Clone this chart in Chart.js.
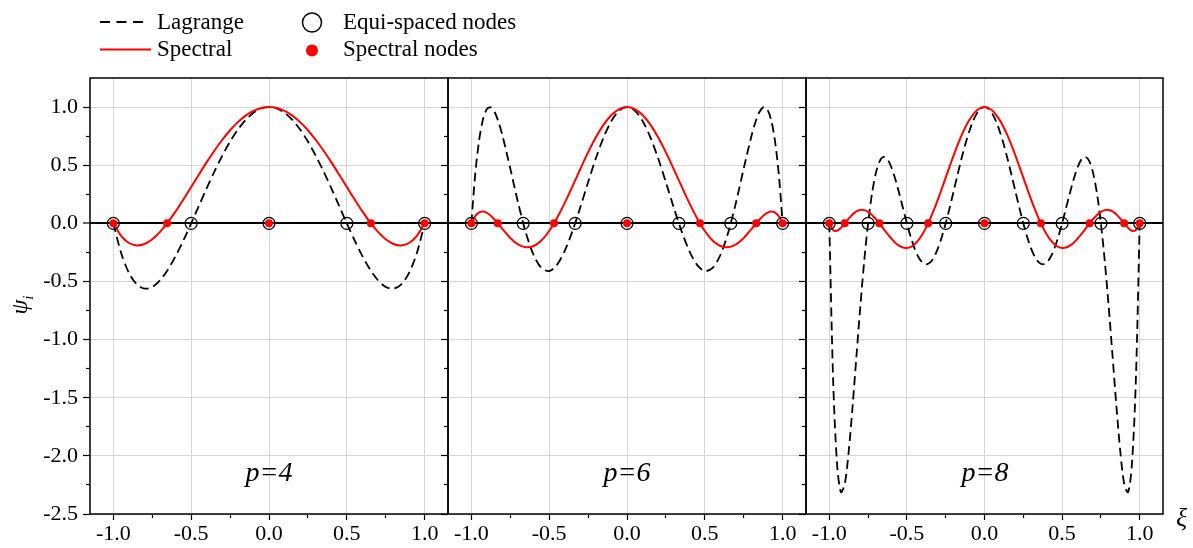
<!DOCTYPE html>
<html lang="en">
<head>
<meta charset="utf-8">
<title>Lagrange vs spectral basis functions</title>
<script src="https://cdn.jsdelivr.net/npm/chart.js@4.4.1/dist/chart.umd.min.js"></script>
<style>
  body { margin: 0; background: #fff; }
  #wrap { position: relative; width: 1193px; height: 548px; overflow: hidden;
          font-family: 'Liberation Serif', 'Times New Roman', serif; color: #000; }
  #wrap canvas { position: absolute; left: 0; top: 0; }
  .txt { position: absolute; white-space: nowrap; }
  .leg { font-size: 23px; line-height: 23px; }
  .plabel { font-size: 28px; line-height: 28px; font-style: italic; width: 120px; text-align: center; }
  #ytitle { left: -11px; top: 290px; width: 60px; height: 30px; line-height: 30px; text-align: center;
            font-size: 24px; transform: rotate(-90deg); }
  #ytitle sub { font-size: 15px; }
</style>
</head>
<body>
<div id="wrap">
  <canvas id="c1" width="1193" height="548"></canvas>
  <canvas id="c2" width="1193" height="548"></canvas>
  <canvas id="c3" width="1193" height="548"></canvas>

  <svg width="360" height="70" style="position:absolute;left:0;top:0">
    <line x1="100" y1="22" x2="145" y2="22" stroke="#000" stroke-width="2" stroke-dasharray="10 6.5"/>
    <line x1="100" y1="49.5" x2="151" y2="49.5" stroke="#ff0000" stroke-width="1.8"/>
    <circle cx="312" cy="22.5" r="9.5" fill="none" stroke="#000" stroke-width="1.5"/>
    <circle cx="312" cy="50.5" r="6" fill="#ff0000"/>
  </svg>
  <div class="txt leg" style="left:157px;top:10px">Lagrange</div>
  <div class="txt leg" style="left:157px;top:37px">Spectral</div>
  <div class="txt leg" style="left:343px;top:10px">Equi-spaced nodes</div>
  <div class="txt leg" style="left:343px;top:37px">Spectral nodes</div>

  <div class="txt plabel" style="left:209px;top:458px">p=4</div>
  <div class="txt plabel" style="left:567px;top:458px">p=6</div>
  <div class="txt plabel" style="left:925px;top:458px">p=8</div>

  <div class="txt" id="ytitle"><i>&psi;</i><sub><i>i</i></sub></div>
  <div class="txt" style="left:1176px;top:505px;font-size:26px;line-height:26px;font-style:italic">&xi;</div>
</div>

<script>
    // axis ticks (major get labels, minor only get a short mark)
    const xMajor = [-1, -0.5, 0, 0.5, 1];
    const xMinor = [-0.75, -0.25, 0.25, 0.75];
    const yMajor = [-2.5, -2, -1.5, -1, -0.5, 0, 0.5, 1];
    const yMinor = [-2.25, -1.75, -1.25, -0.75, -0.25, 0.25, 0.75];

    // p = 4
    const p4Xi = [-1, -0.95, -0.9, -0.85, -0.8, -0.75, -0.7, -0.65, -0.6, -0.55, -0.5, -0.45, -0.4, -0.35, -0.3, -0.25, -0.2, -0.15, -0.1, -0.05,
        0, 0.05, 0.1, 0.15, 0.2, 0.25, 0.3, 0.35, 0.4, 0.45, 0.5, 0.55, 0.6, 0.65, 0.7, 0.75, 0.8, 0.85, 0.9, 0.95, 1];
    const p4Lagrange = [0, -0.2545, -0.4256, -0.5245, -0.5616, -0.5469, -0.4896, -0.3985, -0.2816, -0.1465, 0, 0.1515, 0.3024, 0.4475, 0.5824, 0.7031, 0.8064, 0.8895, 0.9504, 0.9875,
        1, 0.9875, 0.9504, 0.8895, 0.8064, 0.7031, 0.5824, 0.4475, 0.3024, 0.1515, 0, -0.1465, -0.2816, -0.3985, -0.4896, -0.5469, -0.5616, -0.5245, -0.4256, -0.2545, 0];
    const p4Spectral = [0, -0.1078, -0.1691, -0.1903, -0.1776, -0.1367, -0.0731, 0.0082, 0.1024, 0.2052, 0.3125, 0.4207, 0.5264, 0.6267, 0.7189, 0.8008, 0.8704, 0.9262, 0.9669, 0.9917,
        1, 0.9917, 0.9669, 0.9262, 0.8704, 0.8008, 0.7189, 0.6267, 0.5264, 0.4207, 0.3125, 0.2052, 0.1024, 0.0082, -0.0731, -0.1367, -0.1776, -0.1903, -0.1691, -0.1078, 0];
    const p4Equi = [-1, -0.5, 0, 0.5, 1];
    const p4Gll = [-1, -0.6547, 0, 0.6547, 1];

    // p = 6
    const p6Xi = [-1, -0.975, -0.95, -0.925, -0.9, -0.875, -0.85, -0.825, -0.8, -0.75, -0.7, -0.65, -0.6, -0.55, -0.5, -0.45, -0.4, -0.35, -0.3, -0.25, -0.2, -0.15, -0.1, -0.05,
        0, 0.05, 0.1, 0.15, 0.2, 0.25, 0.3, 0.35, 0.4, 0.45, 0.5, 0.55, 0.6, 0.65, 0.7, 0.75, 0.8, 0.825, 0.85, 0.875, 0.9, 0.925, 0.95, 0.975, 1];
    const p6Lagrange = [0, 0.4249, 0.7157, 0.8950, 0.9830, 0.9977, 0.9553, 0.8699, 0.7540, 0.4721, 0.1783, -0.0799, -0.2724, -0.3837, -0.4102, -0.3571, -0.2365, -0.0652, 0.1379, 0.3525, 0.5591, 0.7401, 0.8806, 0.9696,
        1, 0.9696, 0.8806, 0.7401, 0.5591, 0.3525, 0.1379, -0.0652, -0.2365, -0.3571, -0.4102, -0.3837, -0.2724, -0.0799, 0.1783, 0.4721, 0.7540, 0.8699, 0.9553, 0.9977, 0.9830, 0.8950, 0.7157, 0.4249, 0];
    const p6Spectral = [0, 0.0622, 0.0937, 0.1008, 0.0894, 0.0645, 0.0306, -0.0084, -0.0492, -0.1254, -0.1812, -0.2061, -0.1950, -0.1472, -0.0656, 0.0444, 0.1755, 0.3195, 0.4673, 0.6101, 0.7397, 0.8488, 0.9313, 0.9826,
        1, 0.9826, 0.9313, 0.8488, 0.7397, 0.6101, 0.4673, 0.3195, 0.1755, 0.0444, -0.0656, -0.1472, -0.1950, -0.2061, -0.1812, -0.1254, -0.0492, -0.0084, 0.0306, 0.0645, 0.0894, 0.1008, 0.0937, 0.0622, 0];
    const p6Equi = [-1, -0.6667, -0.3333, 0, 0.3333, 0.6667, 1];
    const p6Gll = [-1, -0.8302, -0.4688, 0, 0.4688, 0.8302, 1];

    // p = 8
    const p8Xi = [-1, -0.975, -0.95, -0.925, -0.9, -0.875, -0.85, -0.825, -0.8, -0.775, -0.75, -0.725, -0.7, -0.675, -0.65, -0.625, -0.6, -0.575, -0.55, -0.525,
        -0.5, -0.475, -0.45, -0.425, -0.4, -0.375, -0.35, -0.325, -0.3, -0.275, -0.25, -0.225, -0.2, -0.175, -0.15, -0.125, -0.1, -0.075, -0.05, -0.025,
        0, 0.025, 0.05, 0.075, 0.1, 0.125, 0.15, 0.175, 0.2, 0.225, 0.25, 0.275, 0.3, 0.325, 0.35, 0.375, 0.4, 0.425, 0.45, 0.475,
        0.5, 0.525, 0.55, 0.575, 0.6, 0.625, 0.65, 0.675, 0.7, 0.725, 0.75, 0.775, 0.8, 0.825, 0.85, 0.875, 0.9, 0.925, 0.95, 0.975, 1];
    const p8Lagrange = [0, -1.3567, -2.0673, -2.3129, -2.2397, -1.9638, -1.5754, -1.1426, -0.7150, -0.3269, 0, 0.2541, 0.4316, 0.5351, 0.5713, 0.5499, 0.4826, 0.3818, 0.2600, 0.1291,
        0, -0.1180, -0.2172, -0.2918, -0.3376, -0.3525, -0.3361, -0.2895, -0.2153, -0.1172, 0, 0.1309, 0.2697, 0.4102, 0.5465, 0.6729, 0.7841, 0.8757, 0.9438, 0.9858,
        1, 0.9858, 0.9438, 0.8757, 0.7841, 0.6729, 0.5465, 0.4102, 0.2697, 0.1309, 0, -0.1172, -0.2153, -0.2895, -0.3361, -0.3525, -0.3376, -0.2918, -0.2172, -0.1180,
        0, 0.1291, 0.2600, 0.3818, 0.4826, 0.5499, 0.5713, 0.5351, 0.4316, 0.2541, 0, -0.3269, -0.7150, -1.1426, -1.5754, -1.9638, -2.2397, -2.3129, -2.0673, -1.3567, 0];
    const p8Spectral = [0, -0.0573, -0.0633, -0.0390, -0.0004, 0.0409, 0.0769, 0.1025, 0.1150, 0.1135, 0.0988, 0.0726, 0.0375, -0.0038, -0.0479, -0.0917, -0.1322, -0.1666, -0.1924, -0.2078,
        -0.2113, -0.2018, -0.1789, -0.1427, -0.0937, -0.0328, 0.0387, 0.1191, 0.2064, 0.2984, 0.3930, 0.4878, 0.5803, 0.6683, 0.7495, 0.8220, 0.8839, 0.9337, 0.9703, 0.9925,
        1, 0.9925, 0.9703, 0.9337, 0.8839, 0.8220, 0.7495, 0.6683, 0.5803, 0.4878, 0.3930, 0.2984, 0.2064, 0.1191, 0.0387, -0.0328, -0.0937, -0.1427, -0.1789, -0.2018,
        -0.2113, -0.2078, -0.1924, -0.1666, -0.1322, -0.0917, -0.0479, -0.0038, 0.0375, 0.0726, 0.0988, 0.1135, 0.1150, 0.1025, 0.0769, 0.0409, -0.0004, -0.0390, -0.0633, -0.0573, 0];
    const p8Equi = [-1, -0.75, -0.5, -0.25, 0, 0.25, 0.5, 0.75, 1];
    const p8Gll = [-1, -0.8998, -0.6772, -0.3631, 0, 0.3631, 0.6772, 0.8998, 1];

    // nodes are all drawn on the zero line
    const nodeLevel = 0;

    const GRID = '#d6d6d6';
    Chart.defaults.font.family = "'Liberation Serif', 'Times New Roman', serif";
    Chart.defaults.color = '#000';

    function pts(xs, ys) {
        return xs.map((x, i) => ({ x: x, y: ys[i] }));
    }

    function nodePts(xs) {
        return xs.map(x => ({ x: x, y: nodeLevel }));
    }

    // black box round each panel
    const framePlugin = {
        id: 'frame',
        afterDatasetsDraw(chart) {
            const a = chart.chartArea;
            const ctx = chart.ctx;
            ctx.save();
            ctx.strokeStyle = '#000';
            ctx.lineWidth = 1.5;
            ctx.strokeRect(a.left, a.top, a.right - a.left, a.bottom - a.top);
            ctx.restore();
        }
    };

    function buildPanel(id, padLeft, padRight, withLabels, xi, lag, spec, equi, gll) {
        const isZero = c => c.tick && Math.abs(c.tick.value) < 1e-9;
        return new Chart(document.getElementById(id), {
            type: 'line',
            data: {
                datasets: [
                    { data: nodePts(gll), showLine: false, pointRadius: 4, pointBackgroundColor: '#ff0000', pointBorderWidth: 0 },
                    { data: nodePts(equi), showLine: false, pointRadius: 6, pointBackgroundColor: 'rgba(0,0,0,0)', pointBorderColor: '#000', pointBorderWidth: 1.2 },
                    { data: pts(xi, spec), borderColor: '#ff0000', borderWidth: 2, pointRadius: 0, tension: 0.3, fill: false },
                    { data: pts(xi, lag), borderColor: '#000', borderWidth: 1.8, borderDash: [9, 5], pointRadius: 0, tension: 0.3, fill: false }
                ]
            },
            options: {
                responsive: false,
                animation: false,
                devicePixelRatio: 1,
                events: [],
                layout: { padding: { left: padLeft, right: padRight, top: 78, bottom: 0 } },
                plugins: { legend: { display: false }, tooltip: { enabled: false } },
                scales: {
                    x: {
                        type: 'linear', position: 'bottom', min: -1.15, max: 1.15, weight: 1,
                        afterBuildTicks: s => { s.ticks = xMajor.map(v => ({ value: v })); },
                        afterFit: s => { s.height = 34; },
                        border: { display: false },
                        grid: { color: GRID, lineWidth: 1, tickColor: '#000', tickLength: 6, tickWidth: 1.2 },
                        ticks: { color: '#000', font: { size: 22 }, padding: 1, maxRotation: 0, autoSkip: false,
                                 callback: v => v.toFixed(1) }
                    },
                    xMinor: {
                        type: 'linear', position: 'bottom', min: -1.15, max: 1.15, weight: 0,
                        afterBuildTicks: s => { s.ticks = xMinor.map(v => ({ value: v })); },
                        afterFit: s => { s.height = 0; },
                        border: { display: false },
                        grid: { drawOnChartArea: false, tickColor: '#000', tickLength: 4, tickWidth: 1.2 },
                        ticks: { display: false }
                    },
                    y: {
                        type: 'linear', position: 'left', min: -2.5, max: 1.25, weight: 1,
                        afterBuildTicks: s => { s.ticks = yMajor.map(v => ({ value: v })); },
                        afterFit: s => { s.width = withLabels ? 90 : 0; },
                        border: { display: false },
                        grid: {
                            color: c => isZero(c) ? '#000' : GRID,
                            lineWidth: c => isZero(c) ? 2 : 1,
                            tickColor: '#000', tickLength: 7, tickWidth: 1.2
                        },
                        ticks: { display: withLabels, color: '#000', font: { size: 22 }, padding: 5,
                                 callback: v => v.toFixed(1) }
                    },
                    yMinor: {
                        type: 'linear', position: 'left', min: -2.5, max: 1.25, weight: 0,
                        afterBuildTicks: s => { s.ticks = yMinor.map(v => ({ value: v })); },
                        afterFit: s => { s.width = 0; },
                        border: { display: false },
                        grid: { drawOnChartArea: false, tickColor: '#000', tickLength: 4, tickWidth: 1.2 },
                        ticks: { display: false }
                    }
                }
            },
            plugins: [framePlugin]
        });
    }

    buildPanel('c1', 0, 1193 - 448, true, p4Xi, p4Lagrange, p4Spectral, p4Equi, p4Gll);
    buildPanel('c2', 448, 1193 - 806, false, p6Xi, p6Lagrange, p6Spectral, p6Equi, p6Gll);
    buildPanel('c3', 806, 1193 - 1163, false, p8Xi, p8Lagrange, p8Spectral, p8Equi, p8Gll);
</script>
</body>
</html>
